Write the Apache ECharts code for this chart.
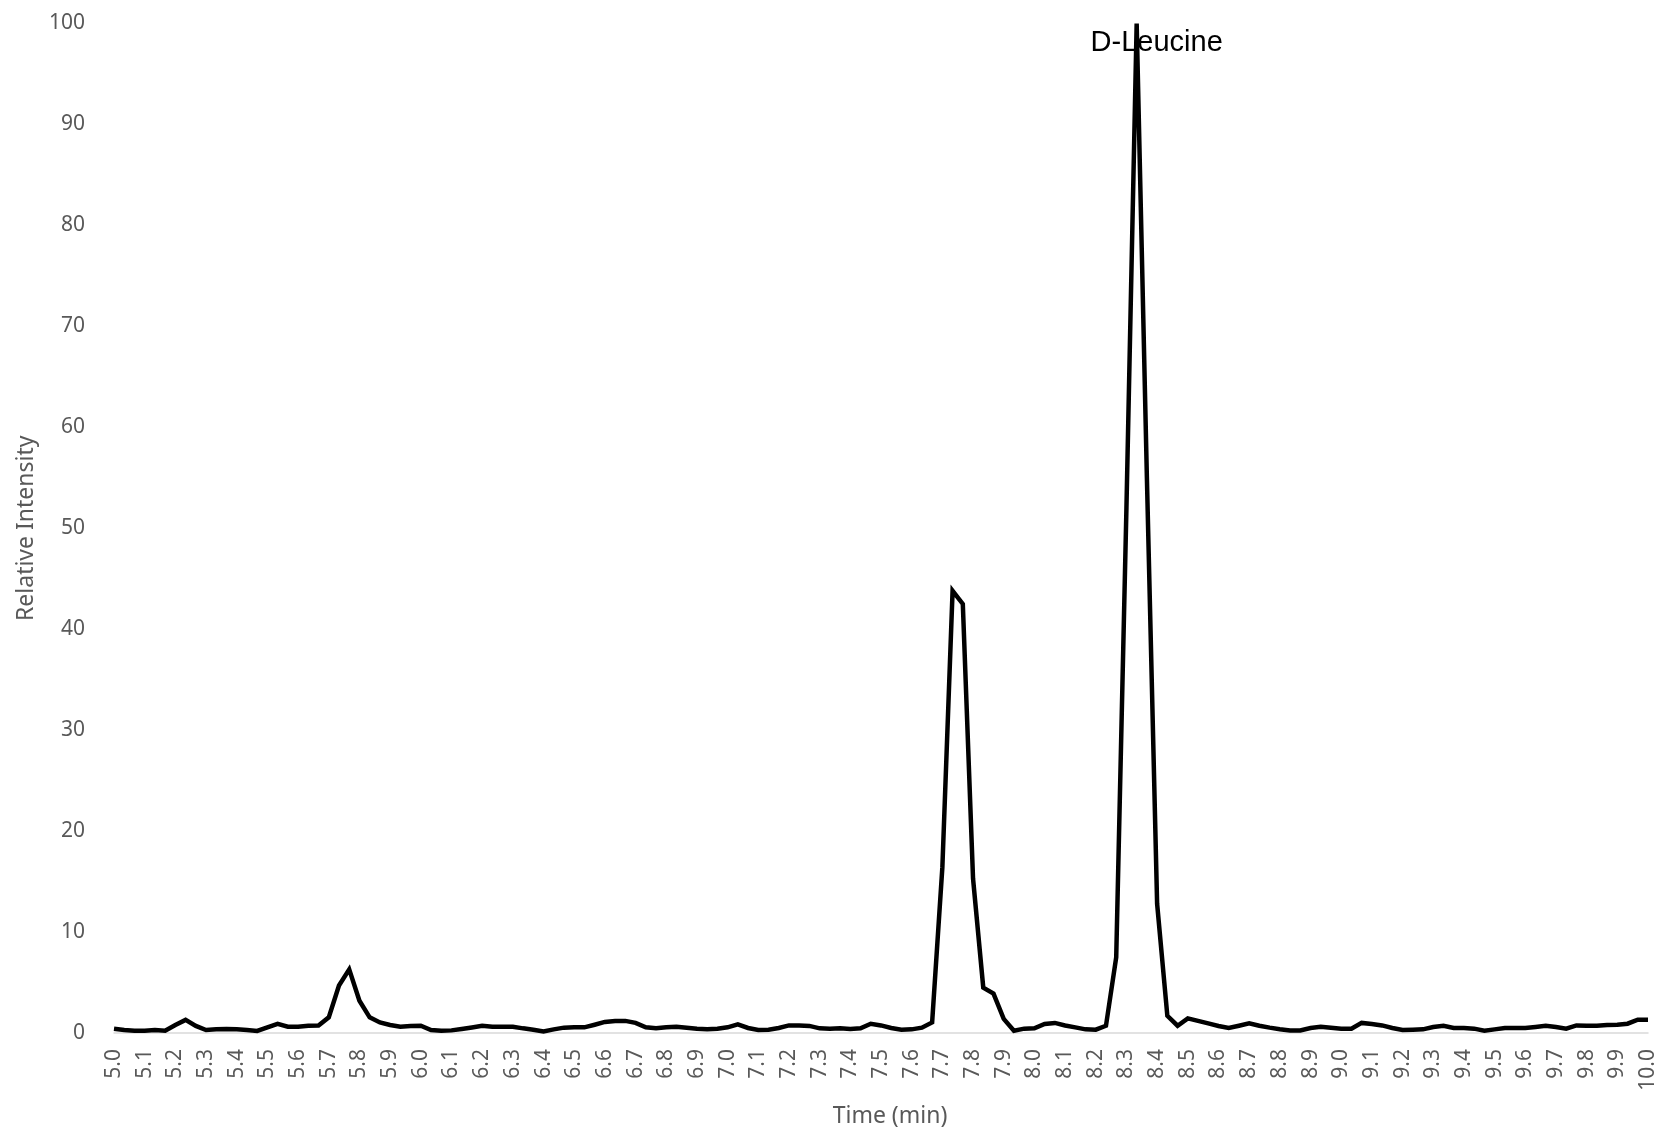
<!DOCTYPE html>
<html>
<head>
<meta charset="utf-8">
<title>D-Leucine chromatogram</title>
<script src="https://cdn.jsdelivr.net/npm/echarts@6/dist/echarts.min.js"></script>
<style>
  html, body { margin: 0; padding: 0; background: #ffffff; }
  #chart { width: 1673px; height: 1133px; }
</style>
</head>
<body>
<div id="chart"></div>
<script>
// Tick labels along the time axis (min); one label every third scan.
const tickLabels = [
  '5.0','5.1','5.2','5.3','5.4','5.5','5.6','5.7','5.8','5.9',
  '6.0','6.1','6.2','6.3','6.4','6.5','6.6','6.7','6.8','6.9',
  '7.0','7.1','7.2','7.3','7.4','7.5','7.6','7.7','7.8','7.9',
  '8.0','8.1','8.2','8.3','8.4','8.5','8.6','8.7','8.8','8.9',
  '9.0','9.1','9.2','9.3','9.4','9.5','9.6','9.7','9.8','9.9',
  '10.0'
];
const scansPerTick = 3;

// Relative intensity (%) for each scan from 5.0 to 10.0 min.
const intensity = [
  0.43, 0.30, 0.23, 0.23, 0.30, 0.23, 0.80, 1.30, 0.70, 0.30,
  0.36, 0.40, 0.36, 0.30, 0.20, 0.55, 0.90, 0.62, 0.62, 0.72,
  0.75, 1.55, 4.70, 6.30, 3.20, 1.55, 1.05, 0.80, 0.62, 0.70,
  0.72, 0.30, 0.23, 0.26, 0.40, 0.55, 0.72, 0.62, 0.62, 0.62,
  0.46, 0.33, 0.16, 0.36, 0.53, 0.56, 0.56, 0.82, 1.10, 1.20,
  1.20, 1.00, 0.56, 0.46, 0.56, 0.62, 0.53, 0.43, 0.36, 0.43,
  0.56, 0.85, 0.50, 0.30, 0.33, 0.50, 0.75, 0.75, 0.70, 0.46,
  0.43, 0.46, 0.40, 0.46, 0.92, 0.75, 0.50, 0.33, 0.36, 0.53,
  1.05, 16.4, 43.8, 42.5, 15.3, 4.50, 3.90, 1.40, 0.23, 0.43,
  0.46, 0.90, 1.00, 0.75, 0.56, 0.36, 0.33, 0.72, 7.50, 52.0,
  100, 55.0, 12.8, 1.70, 0.72, 1.45, 1.20, 0.95, 0.70, 0.50,
  0.72, 0.95, 0.72, 0.53, 0.38, 0.26, 0.26, 0.50, 0.62, 0.53,
  0.43, 0.43, 1.00, 0.90, 0.75, 0.50, 0.30, 0.33, 0.36, 0.60,
  0.72, 0.50, 0.50, 0.43, 0.23, 0.36, 0.50, 0.50, 0.50, 0.60,
  0.72, 0.60, 0.43, 0.75, 0.72, 0.72, 0.79, 0.82, 0.92, 1.32,
  1.32
];

// Named peak annotation
const peakName = 'D-Leucine';
const peakIndex = intensity.indexOf(Math.max(...intensity));

const scanIds = intensity.map((_, i) => String(i));

const tickFont = { fontFamily: 'Noto Sans', fontSize: 21, color: '#595959' };
const titleFont = { fontFamily: 'Noto Sans', fontSize: 23, color: '#595959' };

const chart = echarts.init(document.getElementById('chart'), null, { renderer: 'canvas' });

chart.setOption({
  animation: false,
  backgroundColor: '#ffffff',
  grid: { left: 114, right: 25, top: 23.5, bottom: 99.5, containLabel: false },
  xAxis: {
    type: 'category',
    data: scanIds,
    boundaryGap: false,
    name: 'Time (min)',
    nameLocation: 'middle',
    nameGap: 72,
    nameTextStyle: Object.assign({ padding: [0, 0, 0, 18] }, titleFont),
    axisLine: { show: true, lineStyle: { color: '#d9d9d9', width: 1.5 } },
    axisTick: { show: false },
    splitLine: { show: false },
    axisLabel: Object.assign({
      interval: scansPerTick - 1,
      rotate: 90,
      margin: 16,
      formatter: (val, idx) => tickLabels[idx / scansPerTick]
    }, tickFont)
  },
  yAxis: {
    type: 'value',
    min: 0,
    max: 100,
    interval: 10,
    name: 'Relative Intensity',
    nameLocation: 'middle',
    nameGap: 76,
    nameTextStyle: titleFont,
    axisLine: { show: false },
    axisTick: { show: false },
    splitLine: { show: false },
    axisLabel: Object.assign({ margin: 29 }, tickFont)
  },
  series: [{
    type: 'line',
    data: intensity,
    showSymbol: false,
    symbol: 'none',
    lineStyle: { color: '#000000', width: 4.5, join: 'miter' },
    markPoint: {
      symbol: 'rect',
      symbolSize: 1,
      itemStyle: { color: 'transparent' },
      data: [{
        coord: [peakIndex, intensity[peakIndex]],
        label: {
          show: true,
          position: 'inside',
          offset: [20, 19],
          formatter: peakName,
          fontFamily: 'Liberation Sans',
          fontSize: 29,
          color: '#000000'
        }
      }]
    }
  }]
});
</script>
</body>
</html>
